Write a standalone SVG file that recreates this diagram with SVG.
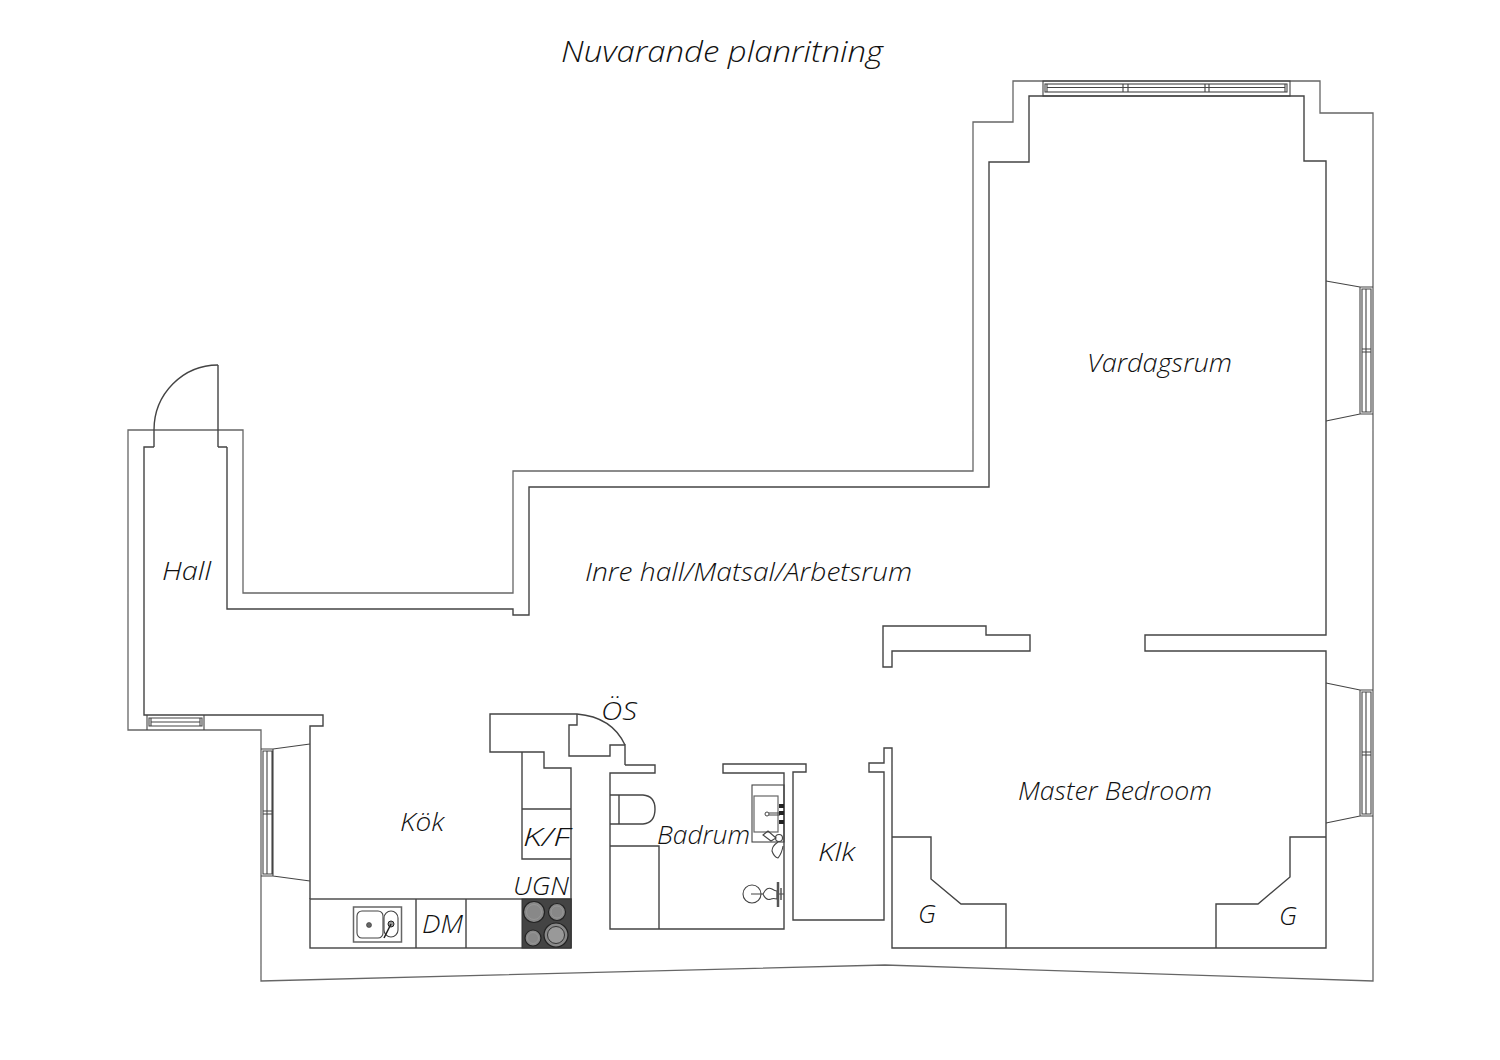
<svg xmlns="http://www.w3.org/2000/svg" width="1500" height="1060" viewBox="0 0 1500 1060">
<style>
.w{fill:none;stroke:#444;stroke-width:1.4;stroke-linejoin:miter}
.o{fill:none;stroke:#666;stroke-width:1.3}
.f{fill:none;stroke:#444;stroke-width:1.1}
.t{font-family:"Open Sans","Lato","Liberation Sans",sans-serif;font-style:italic;font-weight:300;fill:#111;font-size:26px}
.h{fill:#888;stroke:#222;stroke-width:1.2}
.r{fill:none;stroke:#999;stroke-width:.8}
</style>
<rect width="1500" height="1060" fill="#fff"/>
<g id="walls">
<path class="o" d="M128 430H243V593H513V471H973V122H1013V81H1320V113H1373V981L885 965L261 981V730H128Z"/>
<path class="w" d="M154 447H144V715H323V726H310V899M227 447V609H513V615H529V487H989V162H1029V96H1304V161H1326V635H1145V651H1326V948H892V748H884V763H869V772H884V920H793V772H806V764H723V773H784V929H610V773H655V765H625"/>
<path class="w" d="M218 447H227M218 365V447M154 430V447"/>
<path class="w" d="M883 626H986V635H1030V651H892V667H883Z"/>
<path class="w" d="M577 714H490V752H522V859H571M522 809H571M522 752H544V768H571V948"/>
<path class="w" d="M577 714V725H569V756H610V745H625V765"/>
</g>
<g id="doors">
<path class="w" d="M218 365A64 65 0 0 0 154 430"/>
<path class="w" d="M577 714Q612 717 625 745"/>
</g>
<g id="window-top">
<rect class="f" x="1043" y="81" width="247" height="15"/>
<rect class="f" x="1045" y="84" width="242" height="8"/>
<path class="f" d="M1047 87.500H1285M1047 84V92M1123 84V92M1128 84V92M1205 84V92M1209 84V92M1285 84V92"/>
</g>
<g id="window-right-1">
<path class="f" d="M1326 281L1360 287H1373M1326 421L1360 414H1373M1360 287V414M1362 289H1371V412H1362ZM1366 289V412M1362 349H1371M1362 352H1371"/>
</g>
<g id="window-right-2">
<path class="f" d="M1326 683L1360 690H1373M1326 823L1360 816H1373M1360 690V816M1362 692H1371V814H1362ZM1366 692V814M1362 752H1371M1362 755H1371"/>
</g>
<g id="window-kitchen">
<path class="f" d="M310 744L273 749H261M310 881L273 876H261M273 749V876M263 751H272V874H263ZM267 751V874M263 811H272M263 814H272"/>
</g>
<g id="window-hall">
<path class="f" d="M147 715V730M204 715V730M149 718H202V726H149ZM151 722H200M151 718V726M200 718V726"/>
</g>
<g id="kitchen-counter">
<rect class="w" x="310" y="899" width="261" height="49"/>
<path class="w" d="M416 899V948M466 899V948"/>
<rect x="522" y="899" width="49" height="49" fill="#444" stroke="#333"/>
<circle class="h" cx="534" cy="912" r="10.500" stroke-width="1.500"/>
<circle class="r" cx="534" cy="912" r="7.500"/>
<circle class="h" cx="557" cy="912" r="8.500"/>
<circle class="r" cx="557" cy="912" r="6"/>
<circle class="h" cx="533" cy="938" r="8"/>
<circle class="r" cx="533" cy="938" r="5.500"/>
<circle class="h" cx="556" cy="935" r="12"/>
<circle cx="556" cy="935" r="8.500" fill="#999" stroke="#333"/>
<rect x="353.500" y="907" width="48" height="35" fill="#fff" stroke="#666" stroke-width="1.500"/>
<rect class="f" x="357" y="911" width="26" height="27" rx="5"/>
<rect class="f" x="384" y="911" width="14" height="26" rx="7"/>
<circle cx="369" cy="925" r="2.500" fill="#666" stroke="#333" stroke-width=".6"/>
<circle cx="391" cy="924" r="3" fill="#999" stroke="#222"/>
<path d="M391 924L384 938" stroke="#222" stroke-width="1.500" fill="none"/>
</g>
<g id="bathroom-fixtures">
<path class="w" d="M610 795H643Q655 796 655 809Q655 823 643 824H610M619 795V824"/>
<path class="w" d="M610 846H659V929"/>
<rect class="f" x="752" y="785" width="32" height="57" stroke="#666"/>
<rect x="754" y="796" width="24" height="36" fill="#fff" stroke="#666" stroke-width="1.200"/>
<circle cx="767" cy="814" r="2" fill="#fff" stroke="#444"/>
<path class="f" d="M769 813H780M769 815H780"/>
<rect x="779" y="804" width="5" height="4" fill="#222"/>
<rect x="779" y="811" width="5" height="4" fill="#222"/>
<rect x="779" y="820" width="5" height="4" fill="#222"/>
<path class="f" d="M763 835L768 831L776 838L771 841Z"/>
<circle class="f" cx="779" cy="838" r="3.500"/>
<path class="f" d="M778 842Q772 846 772 851Q774 857 778 858Q782 853 783 846"/>
<circle class="f" cx="752" cy="894" r="9"/>
<path class="f" d="M751 894H763M763 894Q767 886 772 889Q775 891 777 891V899Q773 898 771 899Q766 901 763 894M777 894H784"/>
<path d="M778 882V907" stroke="#555" stroke-width="2.500" fill="none"/>
<path d="M781 888V900" stroke="#555" stroke-width="1.500" fill="none"/>
</g>
<g id="closet-fixtures">
<path class="w" d="M892 837H931V879L961 904H1006V948"/>
<path class="w" d="M1326 837H1290V877L1258 904H1216V948"/>
</g>
<g id="labels">
<text class="t" x="561" y="62" style="font-size:30px" textLength="322" lengthAdjust="spacingAndGlyphs">Nuvarande planritning</text>
<text class="t" x="1087" y="372" textLength="145" lengthAdjust="spacingAndGlyphs">Vardagsrum</text>
<text class="t" x="162" y="580" textLength="49" lengthAdjust="spacingAndGlyphs">Hall</text>
<text class="t" x="585" y="581" textLength="327" lengthAdjust="spacingAndGlyphs">Inre hall/Matsal/Arbetsrum</text>
<text class="t" x="1018" y="800" textLength="194" lengthAdjust="spacingAndGlyphs">Master Bedroom</text>
<text class="t" x="601" y="720" textLength="36" lengthAdjust="spacingAndGlyphs">ÖS</text>
<text class="t" x="400" y="831" textLength="44" lengthAdjust="spacingAndGlyphs">Kök</text>
<text class="t" x="523" y="846" textLength="47" lengthAdjust="spacingAndGlyphs">K/F</text>
<text class="t" x="513" y="895" textLength="56" lengthAdjust="spacingAndGlyphs">UGN</text>
<text class="t" x="422" y="933" textLength="41" lengthAdjust="spacingAndGlyphs">DM</text>
<text class="t" x="657" y="844" textLength="93" lengthAdjust="spacingAndGlyphs">Badrum</text>
<text class="t" x="818" y="861" textLength="37" lengthAdjust="spacingAndGlyphs">Klk</text>
<text class="t" x="918" y="923" textLength="18" lengthAdjust="spacingAndGlyphs">G</text>
<text class="t" x="1279" y="925" textLength="18" lengthAdjust="spacingAndGlyphs">G</text>
</g>
</svg>
